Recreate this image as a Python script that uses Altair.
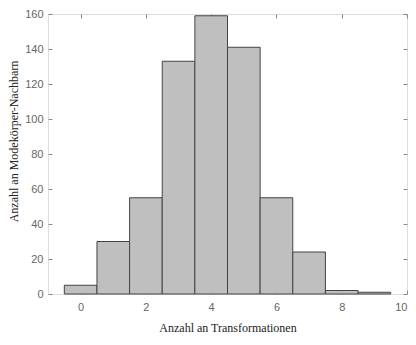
import altair as alt
import pandas as pd

# data
bin_centers = [0, 1, 2, 3, 4, 5, 6, 7, 8, 9]
counts = [5, 30, 55, 133, 159, 141, 55, 24, 2, 1]
x_ticks = [0, 2, 4, 6, 8, 10]
y_ticks = [0, 20, 40, 60, 80, 100, 120, 140, 160]

df = pd.DataFrame({
    "start": [c - 0.5 for c in bin_centers],
    "end": [c + 0.5 for c in bin_centers],
    "count": counts,
})

xscale = alt.Scale(domain=[-1, 10], nice=False, zero=False)
yscale = alt.Scale(domain=[0, 160], nice=False)

lab = dict(labelFont="Liberation Sans", labelFontSize=11, labelColor="#666666",
           tickColor="#888888", tickSize=4, offset=-4, domain=False, grid=False,
           titleFont="Liberation Serif", titleFontSize=12, titleColor="#222222",
           titleFontWeight="normal")

bars = alt.Chart(df).mark_rect(fill="#bfbfbf", stroke="#444444", strokeWidth=1).encode(
    x=alt.X("start:Q", scale=xscale,
            axis=alt.Axis(title="Anzahl an Transformationen", values=x_ticks,
                          labelPadding=7, titlePadding=10, **lab)),
    x2="end:Q",
    y=alt.Y("count:Q", scale=yscale,
            axis=alt.Axis(title="Anzahl an Modekörper-Nachbarn", values=y_ticks,
                          labelPadding=5, titlePadding=4, titleY=127, **lab)),
)

mirror_ax = dict(tickColor="#888888", tickSize=4, offset=-4, domain=False, grid=False,
                 labels=False, title=None)

mirror = alt.Chart(df).mark_rect(opacity=0).encode(
    x=alt.X("start:Q", scale=xscale, axis=alt.Axis(orient="top", values=x_ticks, **mirror_ax)),
    x2="end:Q",
    y=alt.Y("count:Q", scale=yscale, axis=alt.Axis(orient="right", values=y_ticks, **mirror_ax)),
)

chart = alt.layer(bars, mirror).resolve_axis(x="independent", y="independent").properties(
    width=359, height=280,
    autosize=alt.AutoSizeParams(type="none"),
    padding={"left": 40, "top": 6, "right": 1, "bottom": 43},
).configure_view(stroke="#999999", strokeWidth=1).configure(background="white")

chart.save("out.html", embed_options={"renderer": "svg", "actions": False})
